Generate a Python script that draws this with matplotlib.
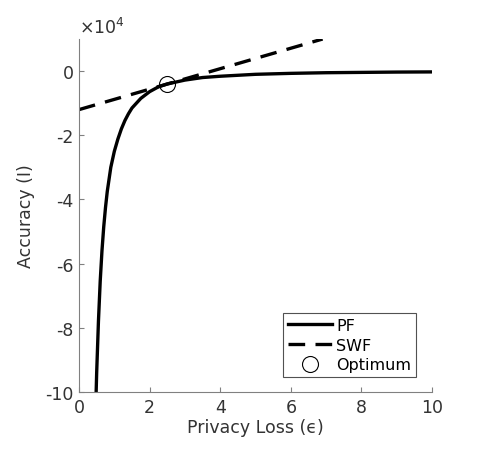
import matplotlib
matplotlib.use("Agg")
import matplotlib.pyplot as plt
import numpy as np

# values (accuracy in units of 1e4)
pf_eps = [0.47, 0.5, 0.55, 0.6, 0.65, 0.7, 0.75, 0.8, 0.9, 1.0, 1.1, 1.2, 1.3, 1.4, 1.5,
          1.75, 2.0, 2.25, 2.5, 3.0, 3.5, 4.0, 5.0, 6.0, 7.0, 8.0, 9.0, 10.0]
pf_acc = [-10.6, -9.4, -7.8, -6.55, -5.6, -4.85, -4.25, -3.75, -3.0, -2.5, -2.12, -1.8, -1.54, -1.33, -1.15,
          -0.85, -0.64, -0.49, -0.40, -0.28, -0.20, -0.16, -0.10, -0.07, -0.05, -0.04, -0.03, -0.025]
swf_eps = [0.0, 6.9]
swf_acc = [-1.2, 1.0]
opt_eps = [2.5]
opt_acc = [-0.40]
scale = 1e4

xticks = [0, 2, 4, 6, 8, 10]
yticks = [-10, -8, -6, -4, -2, 0]

plt.rcParams['font.family'] = 'DejaVu Sans'
fig = plt.figure(figsize=(4.86, 4.6), dpi=100)
ax = fig.add_axes([0.1626, 0.1457, 0.7264, 0.7673])

ax.plot(pf_eps, np.array(pf_acc) * scale, color='black', lw=2.4, label='PF')
ax.plot(swf_eps, np.array(swf_acc) * scale, color='black', lw=2.4, ls=(0, (5, 3.1)), label='SWF')
ax.plot(opt_eps, np.array(opt_acc) * scale, 'o', ms=11.5, mfc='none', mec='black', mew=0.8,
        ls='none', label='Optimum')

ax.set_xlim(0, 10)
ax.set_ylim(-10 * scale, 1 * scale)
ax.set_xticks(xticks)
ax.set_yticks([v * scale for v in yticks])
ax.set_yticklabels([str(v) for v in yticks])
ax.set_xticklabels([str(v) for v in xticks])

for s in ['top', 'right']:
    ax.spines[s].set_visible(False)
for s in ['left', 'bottom']:
    ax.spines[s].set_color('#808080')
    ax.spines[s].set_linewidth(0.8)
ax.tick_params(direction='in', length=3.5, width=0.8, color='#808080',
               labelsize=12.5, labelcolor='#333333', pad=4)

ax.set_xlabel('Privacy Loss (\u03f5)', fontsize=12.5, color='#333333', labelpad=2)
ax.set_ylabel('Accuracy (I)', fontsize=12.5, color='#333333', labelpad=7)
ax.text(0.0, 1.005, r'$\times$10$^4$', transform=ax.transAxes, fontsize=12.5,
        color='#333333', ha='left', va='bottom')

leg = ax.legend(loc='lower right', bbox_to_anchor=(0.955, 0.042), fontsize=11.5,
                frameon=True, fancybox=False, handlelength=2.75, handletextpad=0.3,
                borderpad=0.3, labelspacing=0.3, borderaxespad=0)
leg.get_frame().set_edgecolor('#262626')
leg.get_frame().set_linewidth(0.8)

fig.savefig('out.png', dpi=100)
